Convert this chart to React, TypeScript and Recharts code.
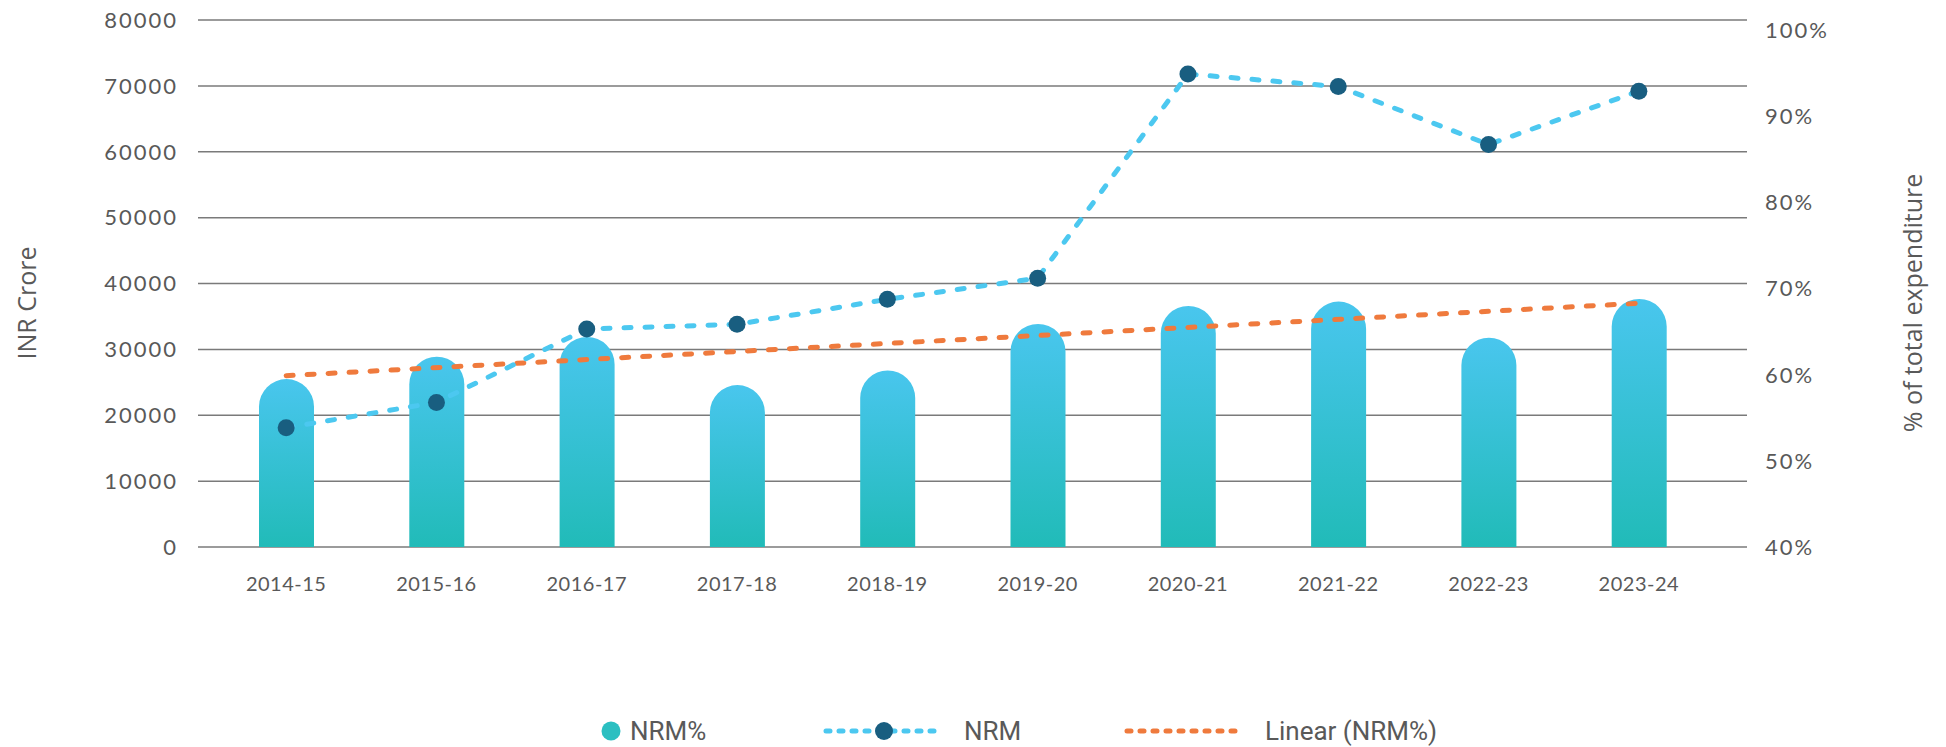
import React from "react"
import {
  ComposedChart, Bar, Line, XAxis, YAxis, CartesianGrid, Legend, Label,
} from "recharts"

const YEARS = [
  "2014-15", "2015-16", "2016-17", "2017-18", "2018-19",
  "2019-20", "2020-21", "2021-22", "2022-23", "2023-24",
]
// NRM as % of total expenditure (right axis)
const NRM_PCT = [59.5, 62.1, 64.4, 58.8, 60.5, 65.9, 68.0, 68.5, 64.3, 68.8]
// NRM spend, INR crore (left axis)
const NRM_CRORE = [18100, 21950, 33100, 33800, 37600, 40800, 71800, 69900, 61100, 69200]
// linear trend of NRM%, read at the first and last year
const TREND_PCT = [59.9, null, null, null, null, null, null, null, null, 68.3]

const LEFT_TICKS = [0, 10000, 20000, 30000, 40000, 50000, 60000, 70000, 80000]
const RIGHT_TICKS = [40, 50, 60, 70, 80, 90, 100]

const BLUE_LINE = "#4cc8f0"
const DOT = "#195e80"
const ORANGE = "#ef7a3d"
const TEAL = "#2bbfc1"
const TEXT = "#595959"

const data = YEARS.map((year, i) => ({
  year,
  pct: NRM_PCT[i],
  crore: NRM_CRORE[i],
  trend: TREND_PCT[i],
}))

const tickFont = { fill: TEXT, fontSize: 22, fontFamily: "Lato", letterSpacing: 2 }

function LegendBox() {
  const txt: React.CSSProperties = {
    position: "absolute", top: 10, fontFamily: "Roboto", fontSize: 26,
    color: TEXT, lineHeight: "30px", whiteSpace: "nowrap",
  }
  return (
    <div style={{ position: "relative", width: 1946, height: 50 }}>
      <svg style={{ position: "absolute", left: 601, top: 15 }} width={20} height={20}>
        <circle cx={10} cy={10} r={9.5} fill={TEAL} />
      </svg>
      <span style={{ ...txt, left: 630 }}>NRM%</span>

      <svg style={{ position: "absolute", left: 823, top: 15 }} width={116} height={20}>
        <line x1={3} y1={10} x2={113} y2={10} stroke={BLUE_LINE} strokeWidth={5}
          strokeDasharray="4 9" strokeLinecap="round" />
        <circle cx={61} cy={10} r={9} fill={DOT} />
      </svg>
      <span style={{ ...txt, left: 964 }}>NRM</span>

      <svg style={{ position: "absolute", left: 1124, top: 15 }} width={122} height={20}>
        <line x1={3} y1={10} x2={119} y2={10} stroke={ORANGE} strokeWidth={5}
          strokeDasharray="4 9" strokeLinecap="round" />
      </svg>
      <span style={{ ...txt, left: 1265 }}>Linear (NRM%)</span>
    </div>
  )
}

export default function App() {
  return (
    <div style={{ position: "absolute", left: 0, top: 0, background: "#fff" }}>
      <ComposedChart
        width={1946}
        height={747}
        data={data}
        margin={{ top: 20, right: 0, bottom: 140, left: 0 }}
      >
        <defs>
          <linearGradient id="barGrad" x1="0" y1="0" x2="0" y2="1">
            <stop offset="0%" stopColor="#49c6ee" />
            <stop offset="100%" stopColor="#21bbb8" />
          </linearGradient>
        </defs>
        <CartesianGrid yAxisId="left" vertical={false} stroke="#7a7a7a" strokeWidth={1.5} />
        <XAxis
          dataKey="year"
          padding={{ left: 13, right: 33 }}
          height={60}
          axisLine={false}
          tickLine={false}
          tickSize={0}
          tickMargin={30}
          interval={0}
          tick={{ fill: TEXT, fontSize: 20, fontFamily: "Lato", letterSpacing: 0.5 }}
        />
        <YAxis
          yAxisId="left"
          orientation="left"
          width={198}
          domain={[0, 80000]}
          ticks={LEFT_TICKS}
          interval={0}
          axisLine={false}
          tickLine={false}
          tickSize={0}
          tickMargin={20}
          tick={tickFont}
        >
          <Label
            content={() => (
              <text x={26} y={303} transform="rotate(-90 26 303)" textAnchor="middle"
                dominantBaseline="central" fill={TEXT} fontSize={25} fontFamily="Open Sans">
                INR Crore
              </text>
            )}
          />
        </YAxis>
        <YAxis
          yAxisId="right"
          orientation="right"
          width={199}
          domain={[40, 101.2]}
          ticks={RIGHT_TICKS}
          interval={0}
          axisLine={false}
          tickLine={false}
          tickSize={0}
          tickMargin={18}
          tick={tickFont}
          tickFormatter={(v: number) => `${v}%`}
        >
          <Label
            content={() => (
              <text x={1912} y={303} transform="rotate(-90 1912 303)" textAnchor="middle"
                dominantBaseline="central" fill={TEXT} fontSize={25} fontFamily="Open Sans">
                % of total expenditure
              </text>
            )}
          />
        </YAxis>
        <Bar
          yAxisId="right"
          dataKey="pct"
          name="NRM%"
          barSize={55}
          fill="url(#barGrad)"
          radius={[27.5, 27.5, 0, 0]}
          isAnimationActive={false}
        />
        <Line
          yAxisId="right"
          dataKey="trend"
          name="Linear (NRM%)"
          stroke={ORANGE}
          strokeWidth={5}
          strokeDasharray="7 14"
          strokeLinecap="round"
          connectNulls
          dot={false}
          activeDot={false}
          isAnimationActive={false}
        />
        <Line
          yAxisId="left"
          dataKey="crore"
          name="NRM"
          stroke={BLUE_LINE}
          strokeWidth={5}
          strokeDasharray="7 14"
          strokeLinecap="round"
          dot={{ r: 8.5, fill: DOT, stroke: "none", strokeDasharray: "0" }}
          activeDot={false}
          isAnimationActive={false}
        />
        <Legend
          layout="horizontal"
          verticalAlign="middle"
          align="center"
          wrapperStyle={{ top: 706, left: 0, width: 1946, height: 50 }}
          content={() => <LegendBox />}
        />
      </ComposedChart>
    </div>
  )
}
